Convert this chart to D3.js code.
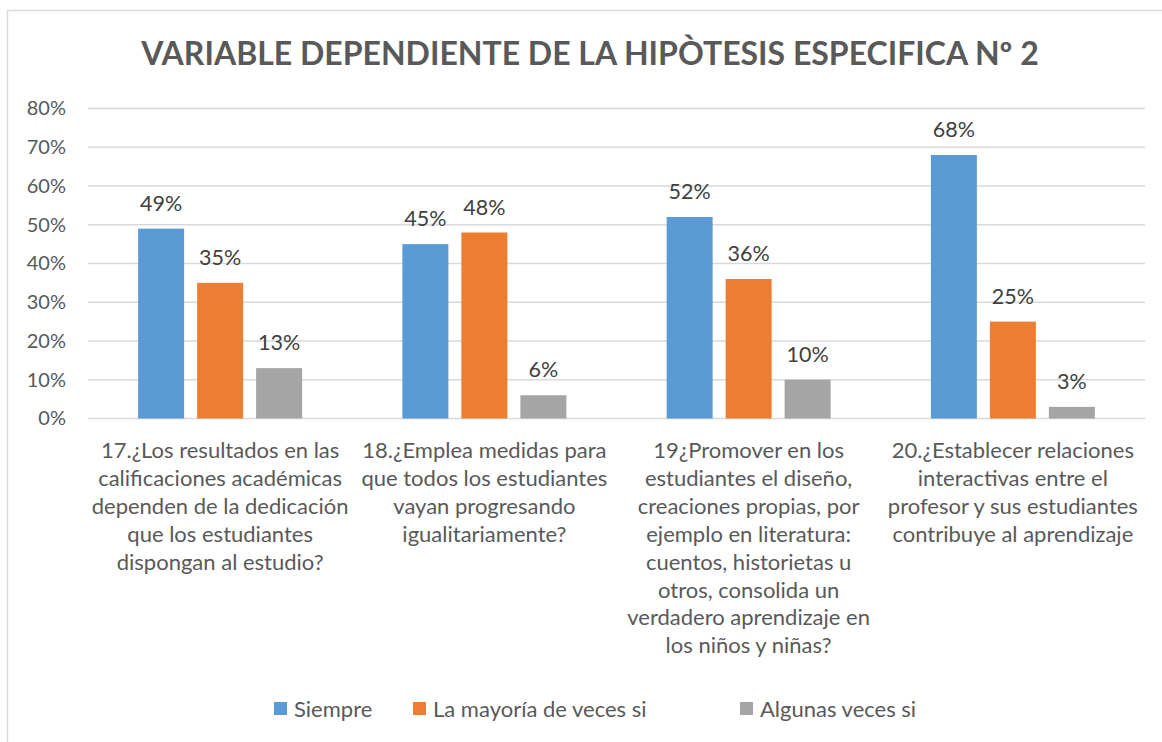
<!DOCTYPE html>
<html><head><meta charset="utf-8">
<script src="https://cdn.jsdelivr.net/npm/d3@7"></script>
<style>body{margin:0;background:#fff}svg{display:block}text{font-family:Lato,"Open Sans",sans-serif}</style>
</head><body>
<script>
const categories = ["17","18","19","20"];
const categoryLabels = [
  ["17.¿Los resultados en las","calificaciones académicas","dependen de la dedicación","que los estudiantes","dispongan al estudio?"],
  ["18.¿Emplea medidas para","que todos los estudiantes","vayan progresando","igualitariamente?"],
  ["19¿Promover en los","estudiantes el diseño,","creaciones propias, por","ejemplo en literatura:","cuentos, historietas u","otros, consolida un","verdadero aprendizaje en","los niños y niñas?"],
  ["20.¿Establecer relaciones","interactivas entre el","profesor y sus estudiantes","contribuye al aprendizaje"]
];
const seriesNames = ["Siempre","La mayoría de veces si","Algunas veces si"];
const siempre = [49,45,52,68];
const mayoria = [35,48,36,25];
const algunas = [13,6,10,3];
const yTicks = [0,10,20,30,40,50,60,70,80];
const colors = ["#5B9BD5","#ED7D31","#A5A5A5"];
const title = "VARIABLE DEPENDIENTE DE LA HIPÒTESIS ESPECIFICA Nº 2";

const W=1162,H=742;
const svg=d3.select("body").append("svg").attr("width",W).attr("height",H);
svg.append("rect").attr("x",7.5).attr("y",10.5).attr("width",W+10).attr("height",H+10).attr("fill","#fff").attr("stroke","#d9d9d9").attr("stroke-width",1.5);

svg.append("text").attr("x",590).attr("y",65).attr("text-anchor","middle").attr("font-size",32).attr("font-weight","bold").attr("fill","#595959").text(title);

const x=d3.scaleBand().domain(categories).range([88,1145]).padding(0);
const xs=d3.scaleBand().domain(seriesNames).range([0,x.bandwidth()]).paddingInner(13/59).paddingOuter(0.85);
const y=d3.scaleLinear().domain([0,80]).range([418.5,108.5]);

const g=svg.append("g");
g.selectAll("line.grid").data(yTicks).join("line").attr("class","grid")
 .attr("x1",88).attr("x2",1145).attr("y1",d=>y(d)).attr("y2",d=>y(d))
 .attr("stroke","#d9d9d9").attr("stroke-width",1.3);

const yAxis=d3.axisLeft(y).tickValues(yTicks).tickFormat(d=>d+"%").tickSize(0).tickPadding(0);
const ya=svg.append("g").attr("transform","translate(66,0)").call(yAxis);
ya.select(".domain").remove();
ya.selectAll("text").attr("font-size",20).attr("fill","#595959").attr("font-family","Lato,sans-serif");

const data=[siempre,mayoria,algunas];
data.forEach((vals,si)=>{
  const s=seriesNames[si];
  g.selectAll("rect.s"+si).data(vals).join("rect")
   .attr("x",(d,i)=>x(categories[i])+xs(s)).attr("width",xs.bandwidth())
   .attr("y",d=>y(d)).attr("height",d=>y(0)-y(d)).attr("fill",colors[si]);
  g.selectAll("text.s"+si).data(vals).join("text")
   .attr("x",(d,i)=>x(categories[i])+xs(s)+xs.bandwidth()/2).attr("y",d=>y(d)-18)
   .attr("text-anchor","middle").attr("font-size",21.5).attr("fill","#404040").text(d=>d+"%");
});

const xa=svg.append("g");
categoryLabels.forEach((lines,i)=>{
  const t=xa.append("text").attr("x",x(categories[i])+x.bandwidth()/2).attr("y",458).attr("text-anchor","middle").attr("font-size",22).attr("fill","#595959");
  lines.forEach((l,j)=>t.append("tspan").attr("x",x(categories[i])+x.bandwidth()/2).attr("dy",j?27.9:0).text(l));
});

const legX=[274,413,740];
const lg=svg.append("g");
seriesNames.forEach((s,i)=>{
  lg.append("rect").attr("x",legX[i]).attr("y",702).attr("width",13).attr("height",13).attr("fill",colors[i]);
  lg.append("text").attr("x",legX[i]+20).attr("y",717).attr("font-size",22).attr("fill","#595959").text(s);
});
</script>
</body></html>
